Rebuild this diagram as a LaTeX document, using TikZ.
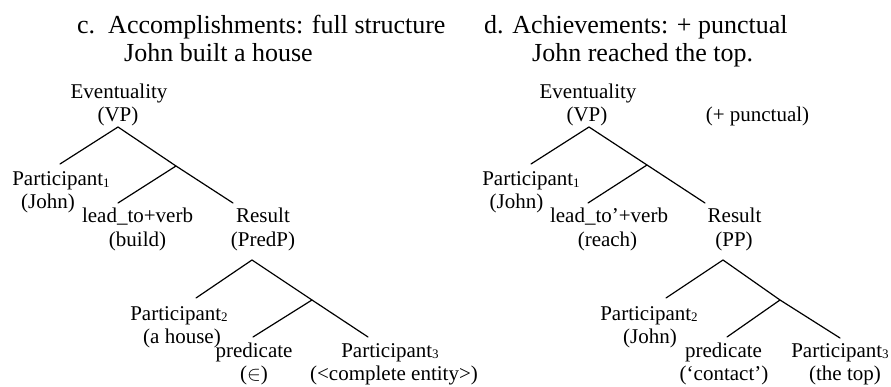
\documentclass[tikz,border=0pt]{standalone}
\usepackage{fontspec}
\setmainfont{Liberation Serif}
\newcommand{\sbx}[1]{{\fontsize{13}{13}\selectfont\raisebox{-1.5pt}{#1}}}
\tikzset{
  ttl/.style={anchor=base west, inner sep=0pt, font=\fontsize{26}{30}\selectfont},
  lbl/.style={anchor=base, inner sep=0pt, font=\fontsize{21}{24}\selectfont},
  br/.style={line width=1.2pt, line cap=round}
}
\begin{document}
\begin{tikzpicture}[x=1pt,y=-1pt]
\useasboundingbox (0,0) rectangle (891,387);
% ---------- titles
\node[ttl] (ct1) at (77,34) {c.\ \ Accomplishments: full structure};
\node[ttl] (ct2) at (124,62) {John built a house};
\node[ttl] (dt1) at (484,34) {d. Achievements: + punctual};
\node[ttl] (dt2) at (532,62) {John reached the top.};
% ---------- left tree labels
\node[lbl] (cev)  at (119,99)  {Eventuality};
\node[lbl] (cvp)  at (118,122) {(VP)};
\node[lbl] (cp1)  at (61,186)  {Participant\sbx{1}};
\node[lbl] (cp1b) at (48,209)  {(John)};
\node[lbl] (clt)  at (137.5,223) {lead\_to+verb};
\node[lbl] (cltb) at (137.5,247) {(build)};
\node[lbl] (cres) at (263,223) {Result};
\node[lbl] (cresb) at (263,247) {(PredP)};
\node[lbl] (cp2)  at (179,320) {Participant\sbx{2}};
\node[lbl] (cp2b) at (182,343) {(a house)};
\node[lbl] (cpr)  at (254,357) {predicate};
\node[lbl] (cprb) at (254,380) {($\in$)};
\node[lbl] (cp3)  at (390,357) {Participant\sbx{3}};
\node[lbl] (cp3b) at (394,380) {(<complete entity>)};
% ---------- left tree branches
\coordinate (cA) at (118,127);
\coordinate (cP1) at (60,164);
\coordinate (cB) at (176,166);
\coordinate (cR) at (233,203);
\coordinate (cL) at (118,203);
\coordinate (cC) at (252,260);
\coordinate (cP2) at (196,298);
\coordinate (cD) at (312,300);
\coordinate (cP3) at (368,337);
\coordinate (cPr) at (253,337);
\draw[br] (cP1) -- (cA) -- (cB) -- (cR);
\draw[br] (cB) -- (cL);
\draw[br] (cP2) -- (cC) -- (cD) -- (cP3);
\draw[br] (cD) -- (cPr);
% ---------- right tree labels
\node[lbl] (dev)  at (588,99)  {Eventuality};
\node[lbl] (dvp)  at (587,122) {(VP)};
\node[lbl] (dpun) at (757.5,122) {(+ punctual)};
\node[lbl] (dp1)  at (531,186) {Participant\sbx{1}};
\node[lbl] (dp1b) at (516.5,209) {(John)};
\node[lbl] (dlt)  at (609,223) {lead\_to'+verb};
\node[lbl] (dltb) at (607.5,247) {(reach)};
\node[lbl] (dres) at (734.5,223) {Result};
\node[lbl] (dresb) at (734,247) {(PP)};
\node[lbl] (dp2)  at (649,320) {Participant\sbx{2}};
\node[lbl] (dp2b) at (650,343) {(John)};
\node[lbl] (dpr)  at (723.5,357) {predicate};
\node[lbl] (dprb) at (724,380) {(`contact')};
\node[lbl] (dp3)  at (840,357) {Participant\sbx{3}};
\node[lbl] (dp3b) at (845,380) {(the top)};
% ---------- right tree branches
\coordinate (dA) at (589,127);
\coordinate (dP1) at (531,164);
\coordinate (dB) at (647,165);
\coordinate (dR) at (705,203);
\coordinate (dL) at (588,203);
\coordinate (dC) at (723,260);
\coordinate (dP2) at (666,298);
\coordinate (dD) at (780,300);
\coordinate (dP3) at (840,338);
\coordinate (dPr) at (727,337);
\draw[br] (dP1) -- (dA) -- (dB) -- (dR);
\draw[br] (dB) -- (dL);
\draw[br] (dP2) -- (dC) -- (dD) -- (dP3);
\draw[br] (dD) -- (dPr);
\end{tikzpicture}
\end{document}
